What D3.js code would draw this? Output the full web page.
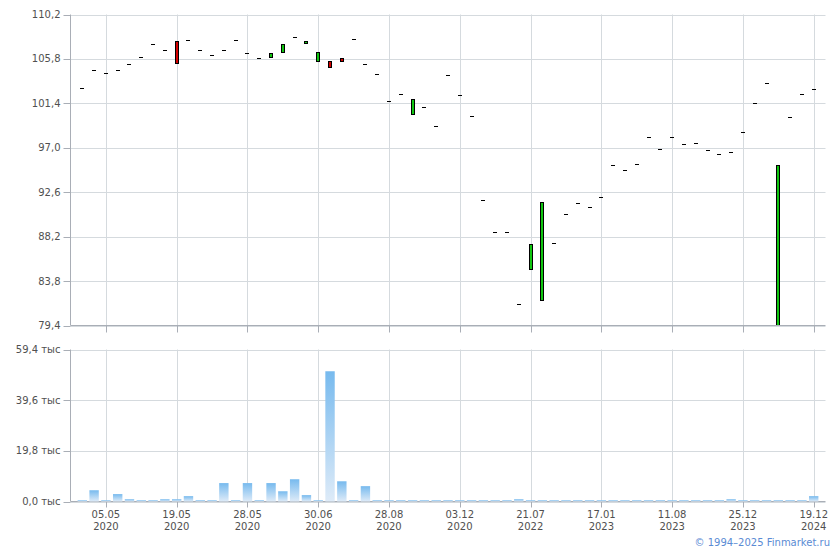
<!DOCTYPE html>
<html>
<head>
<meta charset="utf-8">
<script src="https://cdn.jsdelivr.net/npm/d3@7"></script>
<style>
  html, body { margin: 0; padding: 0; background: #ffffff; }
  svg { display: block; font-family: "DejaVu Sans", Verdana, sans-serif; }
</style>
</head>
<body>
<svg id="chart" width="840" height="550"></svg>
<script>
// ---- DATA ----
const opens = [
  102.88, 104.66, 104.36, 104.66, 105.25, 105.95, 107.26, 106.64, 107.53, 107.63,
  106.64, 106.14, 106.64, 107.63, 106.34, 105.85, 105.95, 106.44, 107.93, 107.33,
  105.55, 105.55, 105.85, 107.73, 105.25, 104.27, 101.60, 102.29, 100.31, 101.00,
  99.12, 104.17, 102.19, 100.11, 91.80, 88.64, 88.64, 81.52, 84.98, 81.91,
  87.55, 90.42, 91.51, 91.11, 92.10, 95.26, 94.77, 95.36, 98.03, 96.85,
  98.03, 97.34, 97.44, 96.75, 96.35, 96.55, 98.53, 101.40, 103.38, 78.80,
  100.01, 102.29, 102.78
];
const closes = [
  102.88, 104.66, 104.36, 104.66, 105.25, 105.95, 107.26, 106.64, 105.35, 107.63,
  106.64, 106.14, 106.64, 107.63, 106.34, 105.85, 106.34, 107.23, 107.93, 107.53,
  106.44, 104.96, 105.55, 107.73, 105.25, 104.27, 101.60, 102.29, 101.79, 101.00,
  99.12, 104.17, 102.19, 100.11, 91.80, 88.64, 88.64, 81.52, 87.45, 91.60,
  87.55, 90.42, 91.51, 91.11, 92.10, 95.26, 94.77, 95.36, 98.03, 96.85,
  98.03, 97.34, 97.44, 96.75, 96.35, 96.55, 98.53, 101.40, 103.38, 95.27,
  100.01, 102.29, 102.78
];
// volume, thousands
const volumes = [
  0.5, 4.4, 0.5, 2.9, 0.9, 0.5, 0.5, 0.9, 0.9, 2.1,
  0.5, 0.5, 7.2, 0.5, 7.2, 0.5, 7.2, 4.0, 8.7, 2.5,
  0.5, 50.9, 7.9, 0.5, 6.0, 0.5, 0.5, 0.5, 0.5, 0.5,
  0.5, 0.5, 0.5, 0.5, 0.5, 0.5, 0.5, 0.9, 0.5, 0.5,
  0.5, 0.5, 0.5, 0.5, 0.5, 0.5, 0.5, 0.5, 0.5, 0.5,
  0.5, 0.5, 0.5, 0.5, 0.5, 0.9, 0.5, 0.5, 0.5, 0.5,
  0.5, 0.5, 2.1
];
const tickIndex = [2, 8, 14, 20, 26, 32, 38, 44, 50, 56, 62];
const tickDates = ["05.05", "19.05", "28.05", "30.06", "28.08", "03.12", "21.07", "17.01", "11.08", "25.12", "19.12"];
const tickYears = ["2020", "2020", "2020", "2020", "2020", "2020", "2022", "2023", "2023", "2023", "2024"];
const priceTicks = [79.4, 83.8, 88.2, 92.6, 97.0, 101.4, 105.8, 110.2];
const volTicks = [0, 19.8, 39.6, 59.4];

// ---- LAYOUT ----
const svg = d3.select("#chart");
const left = 70.5, right = 825.5;
const top1 = 14.5, bot1 = 325.5;
const top2 = 349.5, bot2 = 501.5;
const gridColor = "#d5dade";
const axisColor = "#a9aeb6";
const textColor = "#505050";
const fmt = v => v.toFixed(1).replace(".", ",");

const n = opens.length;
const x = d3.scaleLinear().domain([-1, n]).range([left, right]);
const yP = d3.scaleLinear().domain([79.4, 110.2]).range([bot1, top1]);
const yV = d3.scaleLinear().domain([0, 59.4]).range([bot2, top2]);

const defs = svg.append("defs");
defs.append("clipPath").attr("id", "clipTop")
  .append("rect").attr("x", left).attr("y", top1 - 1).attr("width", right - left).attr("height", bot1 - top1 + 0.5);
const grad = defs.append("linearGradient").attr("id", "volGrad")
  .attr("x1", 0).attr("y1", 0).attr("x2", 0).attr("y2", 1);
grad.append("stop").attr("offset", "0%").attr("stop-color", "#77baee");
grad.append("stop").attr("offset", "100%").attr("stop-color", "#deebf8");

function panel(yScale, ticks, topY, botY, tickFmt, xTickLen) {
  const g = svg.append("g");
  // horizontal gridlines
  g.selectAll("line.hg").data(ticks).join("line")
    .attr("x1", left).attr("x2", right)
    .attr("y1", d => Math.round(yScale(d)) + 0.5).attr("y2", d => Math.round(yScale(d)) + 0.5)
    .attr("stroke", gridColor).attr("stroke-width", 1);
  // vertical gridlines
  g.selectAll("line.vg").data(tickIndex).join("line")
    .attr("x1", d => Math.round(x(d)) + 0.5).attr("x2", d => Math.round(x(d)) + 0.5)
    .attr("y1", topY).attr("y2", botY)
    .attr("stroke", gridColor).attr("stroke-width", 1);
  // left axis
  g.append("line").attr("x1", left).attr("x2", left).attr("y1", topY).attr("y2", botY)
    .attr("stroke", axisColor);
  // bottom axis
  g.append("line").attr("x1", left).attr("x2", right).attr("y1", botY).attr("y2", botY)
    .attr("stroke", axisColor);
  // y ticks
  g.selectAll("line.yt").data(ticks).join("line")
    .attr("x1", left - 7).attr("x2", left)
    .attr("y1", d => Math.round(yScale(d)) + 0.5).attr("y2", d => Math.round(yScale(d)) + 0.5)
    .attr("stroke", axisColor);
  g.selectAll("text.yl").data(ticks).join("text")
    .attr("x", left - 10).attr("y", d => yScale(d)).attr("dy", "0.35em")
    .attr("text-anchor", "end").attr("font-size", 10).attr("fill", textColor)
    .text(tickFmt);
  // x ticks
  g.selectAll("line.xt").data(tickIndex).join("line")
    .attr("x1", d => Math.round(x(d)) + 0.5).attr("x2", d => Math.round(x(d)) + 0.5)
    .attr("y1", botY).attr("y2", botY + xTickLen)
    .attr("stroke", axisColor);
  return g;
}

panel(yP, priceTicks, top1, bot1, fmt, 7);
const g2 = panel(yV, volTicks, top2, bot2, d => fmt(d) + " тыс", 6);

// ---- CANDLES ----
const candles = svg.append("g").attr("clip-path", "url(#clipTop)");
const idx = d3.range(n);
const cw = 3;
idx.forEach(i => {
  const o = opens[i], c = closes[i];
  const cx = Math.round(x(i));
  if (o === c) {
    const yy = Math.round(yP(c)) + 0.5;
    candles.append("line")
      .attr("x1", cx - 2).attr("x2", cx + 2)
      .attr("y1", yy).attr("y2", yy)
      .attr("stroke", "#000").attr("stroke-width", 1);
  } else {
    const yTop = Math.round(yP(Math.max(o, c))) + 0.5;
    const yBot = Math.round(yP(Math.min(o, c))) + 0.5;
    candles.append("rect")
      .attr("x", cx - 1.5).attr("width", cw)
      .attr("y", yTop).attr("height", Math.max(1, yBot - yTop))
      .attr("fill", c > o ? "#11c611" : "#d40000")
      .attr("stroke", "#000").attr("stroke-width", 1);
  }
});

// ---- VOLUME BARS ----
const bw = 9.4;
svg.append("g").selectAll("rect").data(idx).join("rect")
  .attr("x", i => x(i) - bw / 2)
  .attr("width", bw)
  .attr("y", i => yV(volumes[i]))
  .attr("height", i => bot2 - yV(volumes[i]))
  .attr("fill", "url(#volGrad)");

// ---- X LABELS ----
const xl = svg.append("g");
xl.selectAll("text.d").data(tickIndex).join("text")
  .attr("x", d => x(d)).attr("y", 518)
  .attr("text-anchor", "middle").attr("font-size", 10).attr("fill", textColor)
  .text((d, k) => tickDates[k]);
xl.selectAll("text.yr").data(tickIndex).join("text")
  .attr("x", d => x(d)).attr("y", 529.5)
  .attr("text-anchor", "middle").attr("font-size", 10).attr("fill", textColor)
  .text((d, k) => tickYears[k]);

// ---- COPYRIGHT ----
svg.append("text")
  .attr("x", 830).attr("y", 546)
  .attr("text-anchor", "end").attr("font-size", 10).attr("fill", "#5a8bd4")
  .text("© 1994–2025 Finmarket.ru");
</script>
</body>
</html>
